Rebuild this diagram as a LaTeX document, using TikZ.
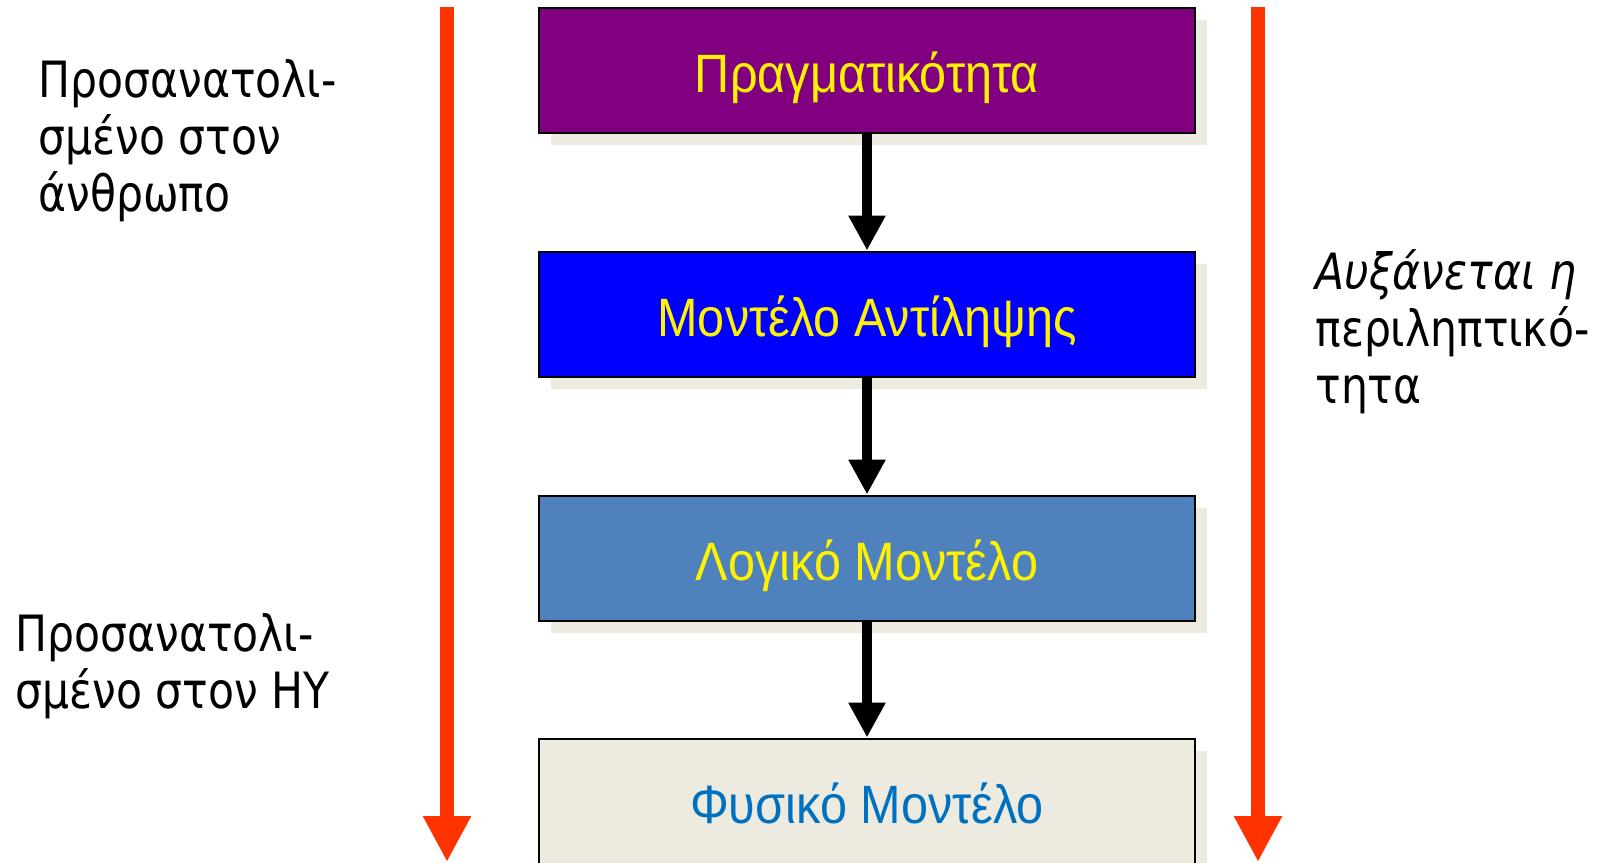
\documentclass[tikz,border=0pt]{standalone}
\usepackage{fontspec}
\setmainfont{DejaVu Sans}
\newfontfamily\sidefont[FakeStretch=0.85]{DejaVu Sans}
\newfontfamily\boxfont[FakeStretch=0.9]{Liberation Sans}
\usetikzlibrary{arrows.meta,shadows}

\definecolor{realpurple}{HTML}{800080}
\definecolor{conceptblue}{HTML}{0000FF}
\definecolor{logicblue}{HTML}{4F81BD}
\definecolor{physbeige}{HTML}{EDEBE0}
\definecolor{physblue}{HTML}{0070C0}
\definecolor{arrowred}{HTML}{FF3300}

\tikzset{
  level/.style={draw=black, line width=1pt, minimum width=328pt, minimum height=62.5pt,
    inner sep=0pt, text height=22pt, text depth=0pt,
    font=\boxfont\fontsize{27}{32}\selectfont, text=yellow,
    drop shadow={shadow xshift=6pt, shadow yshift=-6pt, fill=physbeige, opacity=1}},
  sidetext/.style={anchor=north west, inner sep=0pt, align=left,
    font=\sidefont\fontsize{25}{28.5}\selectfont},
  downarrow/.style={line width=5pt, -{Triangle[width=17.5pt,length=17.5pt]}},
  redarrow/.style={arrowred, line width=7pt, -{Triangle[width=22.5pt,length=23pt]}}
}

\begin{document}
\begin{tikzpicture}[x=0.5pt,y=-0.5pt]
        \useasboundingbox (0,0) rectangle (1598,862);

        % red arrows on both sides
        \coordinate (ltop) at (447,7);
        \coordinate (lbot) at (447,862);
        \coordinate (rtop) at (1258,7);
        \coordinate (rbot) at (1258,862);
        \draw [redarrow] (ltop) -- (lbot);
        \draw [redarrow] (rtop) -- (rbot);

        \node [level, fill=realpurple] (real) at (867,70) {Πραγματικότητα};
        \node [level, fill=conceptblue] (concept) at (867,314) {Μοντέλο Αντίληψης};
        \node [level, fill=logicblue] (logical) at (867,558) {Λογικό Μοντέλο};
        \node [level, fill=physbeige, text=physblue] (physical) at (867,801) {Φυσικό Μοντέλο};

        \draw [downarrow] (real) -- (concept);
        \draw [downarrow] (concept) -- (logical);
        \draw [downarrow] (logical) -- (physical);

        \node [sidetext] (human) at (38,59) {Προσανατολι-\\σμένο στον\\άνθρωπο};
        \node [sidetext] (computer) at (15,613) {Προσανατολι-\\σμένο στον ΗΥ};
        \node [sidetext] (abstract) at (1315,249) {{\itshape Αυξάνεται η}\\περιληπτικό-\\τητα};
\end{tikzpicture}
\end{document}
